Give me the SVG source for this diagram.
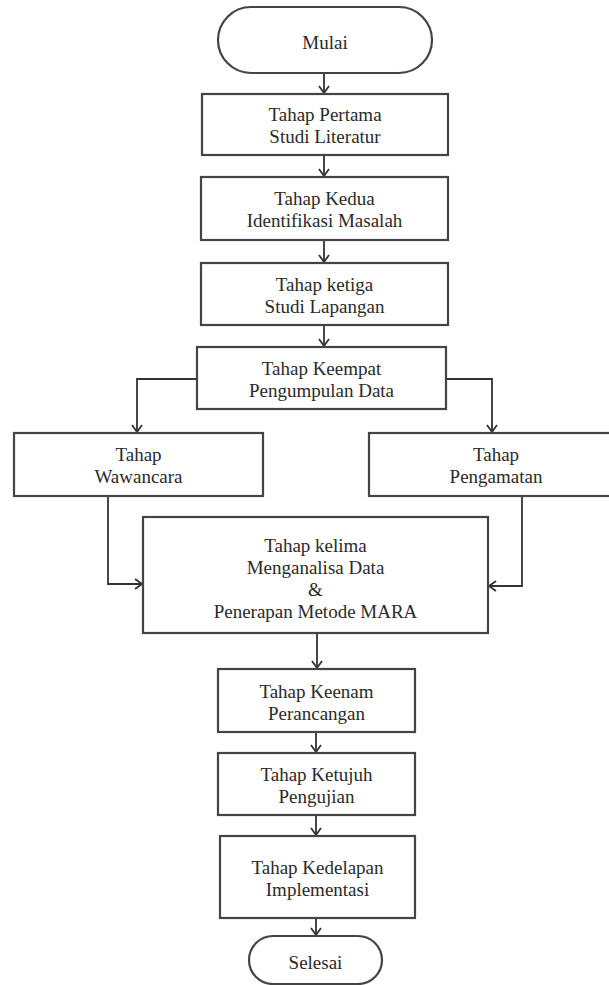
<svg xmlns="http://www.w3.org/2000/svg" width="609" height="985" viewBox="0 0 609 985">
<defs>
<style>
.n{fill:#fff;stroke:#444;stroke-width:2.2}
.t{font-family:Liberation Serif,serif;font-size:19px;fill:#2a2a2a;text-anchor:middle}
.c{fill:none;stroke:#333;stroke-width:1.8}
</style>
<marker id="ah" markerUnits="userSpaceOnUse" markerWidth="14" markerHeight="14" refX="10" refY="6" orient="auto">
<path d="M3,1 L10,6 L3,11" fill="none" stroke="#333" stroke-width="1.8"/>
</marker>
</defs>
<rect width="609" height="985" fill="#fff"/>
<g id="connectors">
<path class="c" d="M324,73 V93" marker-end="url(#ah)"/>
<path class="c" d="M324,155 V176" marker-end="url(#ah)"/>
<path class="c" d="M324,240 V262" marker-end="url(#ah)"/>
<path class="c" d="M324,325 V346" marker-end="url(#ah)"/>
<path class="c" d="M197,379 H137 V432" marker-end="url(#ah)"/>
<path class="c" d="M446,379 H492 V432" marker-end="url(#ah)"/>
<path class="c" d="M108,496 V584 H142" marker-end="url(#ah)"/>
<path class="c" d="M522,496 V586 H489" marker-end="url(#ah)"/>
<path class="c" d="M317,633 V668" marker-end="url(#ah)"/>
<path class="c" d="M316,732 V752" marker-end="url(#ah)"/>
<path class="c" d="M316,815 V835" marker-end="url(#ah)"/>
<path class="c" d="M316,918 V935" marker-end="url(#ah)"/>
</g>
<g id="mulai" font-family="Liberation Serif"><rect class="n" x="218" y="7" width="214" height="66" rx="33"/><text class="t" x="325" y="49">Mulai</text></g>
<g id="tahap1" font-family="Liberation Serif"><rect class="n" x="202" y="94" width="246" height="61"/><text class="t" x="325" y="121">Tahap Pertama</text><text class="t" x="325" y="143">Studi Literatur</text></g>
<g id="tahap2" font-family="Liberation Serif"><rect class="n" x="201" y="177" width="247" height="63"/><text class="t" x="324.5" y="205">Tahap Kedua</text><text class="t" x="324.5" y="227">Identifikasi Masalah</text></g>
<g id="tahap3" font-family="Liberation Serif"><rect class="n" x="201" y="263" width="247" height="62"/><text class="t" x="324.5" y="291">Tahap ketiga</text><text class="t" x="324.5" y="313">Studi Lapangan</text></g>
<g id="tahap4" font-family="Liberation Serif"><rect class="n" x="197" y="347" width="249" height="62"/><text class="t" x="321.5" y="375">Tahap Keempat</text><text class="t" x="321.5" y="397">Pengumpulan Data</text></g>
<g id="wawancara" font-family="Liberation Serif"><rect class="n" x="14" y="433" width="249" height="63"/><text class="t" x="138.5" y="461">Tahap</text><text class="t" x="138.5" y="483">Wawancara</text></g>
<g id="pengamatan" font-family="Liberation Serif"><rect class="n" x="369" y="433" width="254" height="63"/><text class="t" x="496" y="461">Tahap</text><text class="t" x="496" y="483">Pengamatan</text></g>
<g id="tahap5" font-family="Liberation Serif"><rect class="n" x="143" y="517" width="345" height="116"/><text class="t" x="315.5" y="552">Tahap kelima</text><text class="t" x="315.5" y="574">Menganalisa Data</text><text class="t" x="315.5" y="596">&amp;</text><text class="t" x="315.5" y="618">Penerapan Metode MARA</text></g>
<g id="tahap6" font-family="Liberation Serif"><rect class="n" x="218" y="669" width="197" height="63"/><text class="t" x="316.5" y="698">Tahap Keenam</text><text class="t" x="316.5" y="720">Perancangan</text></g>
<g id="tahap7" font-family="Liberation Serif"><rect class="n" x="218" y="753" width="197" height="62"/><text class="t" x="316.5" y="781">Tahap Ketujuh</text><text class="t" x="316.5" y="803">Pengujian</text></g>
<g id="tahap8" font-family="Liberation Serif"><rect class="n" x="220" y="836" width="195" height="82"/><text class="t" x="317.5" y="874">Tahap Kedelapan</text><text class="t" x="317.5" y="896">Implementasi</text></g>
<g id="selesai" font-family="Liberation Serif"><rect class="n" x="249" y="936" width="133" height="48" rx="24"/><text class="t" x="315.5" y="969">Selesai</text></g>
</svg>
